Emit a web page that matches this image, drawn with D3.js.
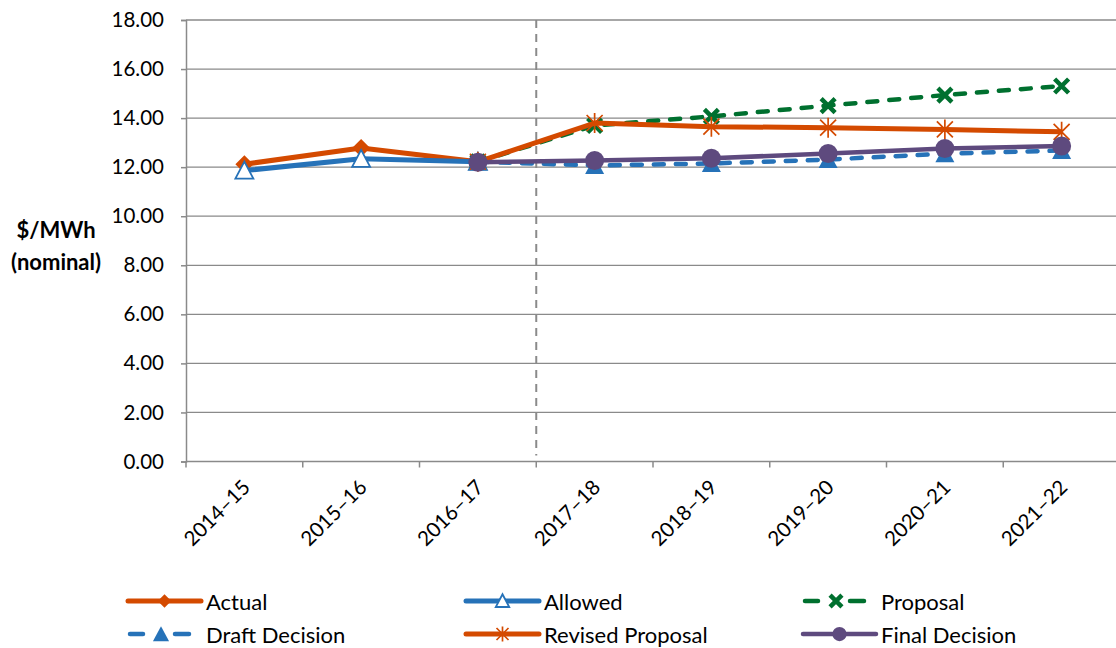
<!DOCTYPE html>
<html>
<head>
<meta charset="utf-8">
<script src="https://cdn.jsdelivr.net/npm/d3@7/dist/d3.min.js"></script>
<style>
  html, body { margin: 0; padding: 0; background: #ffffff; }
  svg { display: block; }
  text { font-family: Lato, "Open Sans", sans-serif; fill: #000; }
</style>
</head>
<body>
<svg id="chart" width="1116" height="648"></svg>
<script>
// Financial years on the category axis
const categories = ["2014–15", "2015–16", "2016–17", "2017–18", "2018–19", "2019–20", "2020–21", "2021–22"];

// $/MWh (nominal) by year; null where a series has no value
const actual   = [12.12, 12.78, 12.22, null, null, null, null, null];
const allowed  = [11.86, 12.34, 12.22, null, null, null, null, null];
const proposal = [null, null, 12.22, 13.70, 14.07, 14.51, 14.94, 15.31];
const draft    = [null, null, 12.22, 12.07, 12.15, 12.31, 12.55, 12.68];
const revised  = [null, null, 12.22, 13.80, 13.65, 13.61, 13.54, 13.44];
const final    = [null, null, 12.20, 12.27, 12.36, 12.56, 12.76, 12.86];

const seriesNames = ["Actual", "Allowed", "Proposal", "Draft Decision", "Revised Proposal", "Final Decision"];
const yTicks = [0, 2, 4, 6, 8, 10, 12, 14, 16, 18];
const yTitle = ["$/MWh", "(nominal)"];

const ORANGE = "#d44a00", BLUE = "#2672b8", GREEN = "#00702f", PURPLE = "#5e4a7e", GRID = "#8a8a8a";

const series = [
  { name: seriesNames[0], values: actual,   color: ORANGE, width: 5,   dash: null,    marker: "diamond" },
  { name: seriesNames[1], values: allowed,  color: BLUE,   width: 5,   dash: null,    marker: "openTriangle" },
  { name: seriesNames[2], values: proposal, color: GREEN,  width: 4.5, dash: "10,12", marker: "x" },
  { name: seriesNames[3], values: draft,    color: BLUE,   width: 4.5, dash: "10,12", marker: "triangle" },
  { name: seriesNames[4], values: revised,  color: ORANGE, width: 5,   dash: null,    marker: "asterisk" },
  { name: seriesNames[5], values: final,    color: PURPLE, width: 4.5, dash: null,    marker: "circle" }
];

const svg = d3.select("#chart");

const x = d3.scaleBand().domain(categories).range([186, 1120]).padding(0);
const cx = c => x(c) + x.bandwidth() / 2;
const y = d3.scaleLinear().domain([0, 18]).range([461.5, 20]);

// Horizontal gridlines
svg.append("g").selectAll("line")
  .data(yTicks.filter(d => d > 0))
  .join("line")
  .attr("x1", 186).attr("x2", 1116)
  .attr("y1", d => y(d)).attr("y2", d => y(d))
  .attr("stroke", GRID).attr("stroke-width", 1.3);

// Dashed divider between actual and forecast years
svg.append("line")
  .attr("x1", x(categories[3])).attr("x2", x(categories[3]))
  .attr("y1", y(18)).attr("y2", y(0) - 6)
  .attr("stroke", GRID).attr("stroke-width", 2)
  .attr("stroke-dasharray", "8,6");

// Y axis
const yAxis = svg.append("g")
  .attr("transform", "translate(186,0)")
  .call(d3.axisLeft(y).tickValues(yTicks).tickFormat(d3.format(".2f")).tickSize(5).tickPadding(17));
yAxis.select(".domain").attr("stroke", GRID).attr("stroke-width", 1.5);
yAxis.selectAll(".tick line").attr("stroke", GRID).attr("stroke-width", 1.5);
yAxis.selectAll(".tick text").attr("font-size", 20.5).attr("font-family", "Lato, sans-serif").attr("fill", "#000");

// X axis line and boundary ticks
svg.append("line")
  .attr("x1", 186).attr("x2", 1116)
  .attr("y1", y(0)).attr("y2", y(0))
  .attr("stroke", GRID).attr("stroke-width", 1.5);
svg.append("g").selectAll("line")
  .data(categories)
  .join("line")
  .attr("x1", d => x(d)).attr("x2", d => x(d))
  .attr("y1", y(0)).attr("y2", y(0) + 6)
  .attr("stroke", GRID).attr("stroke-width", 1.5);

// Rotated category labels
svg.append("g").selectAll("text")
  .data(categories)
  .join("text")
  .attr("transform", d => `translate(${cx(d) + 7},${y(0) + 27}) rotate(-45)`)
  .attr("text-anchor", "end")
  .attr("font-size", 20.5)
  .text(d => d);

// Y axis title
svg.append("g").selectAll("text")
  .data(yTitle)
  .join("text")
  .attr("x", 56)
  .attr("y", (d, i) => 238 + i * 32)
  .attr("text-anchor", "middle")
  .attr("font-size", 22)
  .attr("font-weight", "bold")
  .text(d => d);

// Marker drawing
function drawMarker(g, type, color, s) {
  const k = s || 1;
  if (type === "diamond") {
    g.append("path").attr("d", `M0,${-9 * k}L${9 * k},0L0,${9 * k}L${-9 * k},0Z`).attr("fill", color);
  } else if (type === "openTriangle") {
    g.append("path").attr("d", `M0,${-9 * k}L${9 * k},${8 * k}L${-9 * k},${8 * k}Z`)
      .attr("fill", "#fff").attr("stroke", color).attr("stroke-width", 1.8);
  } else if (type === "triangle") {
    g.append("path").attr("d", `M0,${-9 * k}L${9.5 * k},${8.5 * k}L${-9.5 * k},${8.5 * k}Z`).attr("fill", color);
  } else if (type === "circle") {
    g.append("circle").attr("r", 9.5 * k).attr("fill", color);
  } else if (type === "x") {
    const r = 7 * k;
    g.append("path").attr("d", `M${-r},${-r}L${r},${r}M${-r},${r}L${r},${-r}`)
      .attr("stroke", color).attr("stroke-width", 4.5).attr("fill", "none");
  } else if (type === "asterisk") {
    const r = 8 * k;
    g.append("path").attr("d", `M${-r},${-r}L${r},${r}M${-r},${r}L${r},${-r}M0,${-10 * k}L0,${10 * k}`)
      .attr("stroke", color).attr("stroke-width", 1.7).attr("fill", "none");
  }
}

// Series lines and markers
const line = d3.line()
  .defined(d => d.v !== null)
  .x(d => cx(d.c))
  .y(d => y(d.v));

series.forEach(s => {
  const pts = categories.map((c, i) => ({ c, v: s.values[i] }));
  const g = svg.append("g");
  g.append("path")
    .datum(pts)
    .attr("d", line)
    .attr("fill", "none")
    .attr("stroke", s.color)
    .attr("stroke-width", s.width)
    .attr("stroke-linejoin", "round")
    .attr("stroke-linecap", s.dash ? "round" : "butt")
    .attr("stroke-dasharray", s.dash);
  pts.filter(d => d.v !== null).forEach(d => {
    const m = g.append("g").attr("transform", `translate(${cx(d.c)},${y(d.v)})`);
    drawMarker(m, s.marker, s.color, 1);
  });
});

// Legend
const legendCols = [128, 466, 803];
const legendRows = [601, 634];
series.forEach((s, i) => {
  const lx = legendCols[i % 3], ly = legendRows[Math.floor(i / 3)];
  const g = svg.append("g").attr("transform", `translate(${lx},${ly})`);
  if (s.dash) {
    [[2, 15], [47, 61]].forEach(([a, b]) => {
      g.append("line").attr("x1", a).attr("x2", b).attr("y1", 0).attr("y2", 0)
        .attr("stroke", s.color).attr("stroke-width", s.width).attr("stroke-linecap", "round");
    });
    const m = g.append("g").attr("transform", "translate(33,0)");
    drawMarker(m, s.marker, s.color, 0.85);
  } else {
    g.append("line").attr("x1", 0).attr("x2", 73).attr("y1", 0).attr("y2", 0)
      .attr("stroke", s.color).attr("stroke-width", s.width).attr("stroke-linecap", "round");
    const m = g.append("g").attr("transform", "translate(36.5,0)");
    drawMarker(m, s.marker, s.color, 0.75);
  }
  g.append("text")
    .attr("x", 78)
    .attr("y", 8.5)
    .attr("font-size", 22)
    .text(s.name);
});
</script>
</body>
</html>
